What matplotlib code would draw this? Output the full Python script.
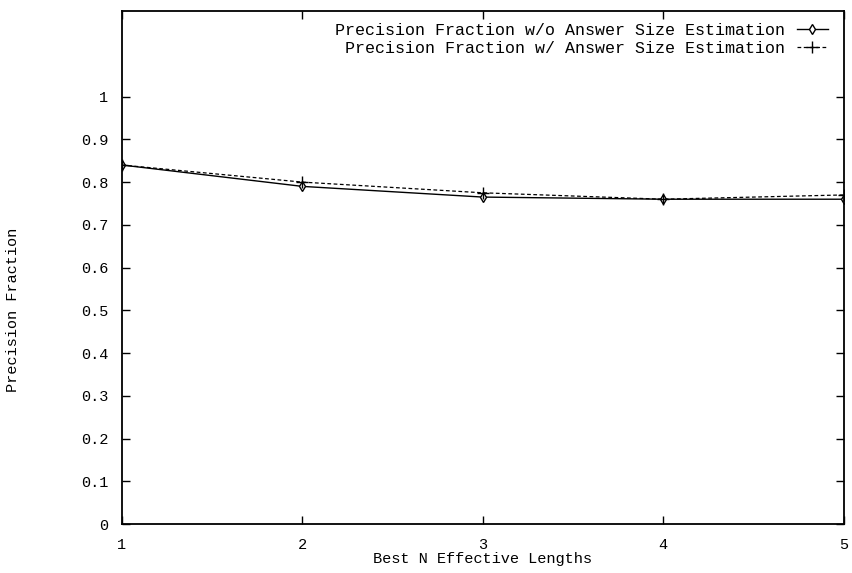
import numpy as np
from matplotlib import pyplot as plt

plt.rcParams['font.family'] = ['Liberation Mono', 'DejaVu Sans Mono']

# best N effective lengths
n_best = [1, 2, 3, 4, 5]
prec_without = [0.84, 0.79, 0.765, 0.76, 0.76]
prec_with = [0.84, 0.80, 0.775, 0.76, 0.77]

fig = plt.figure(figsize=(8.53, 5.73), dpi=100)
ax = fig.add_axes([0.143, 0.0855, 0.846, 0.895])

ax.plot(n_best, prec_without, color='black', lw=1.0, marker='d', ms=5,
        mfc='white', mec='black', mew=1.0,
        label='Precision Fraction w/o Answer Size Estimation')
ax.plot(n_best, prec_with, color='black', lw=0.9, ls=(0, (3, 2)), marker='+',
        ms=9, mew=1.0,
        label='Precision Fraction w/ Answer Size Estimation')

ax.set_xlim(1, 5)
ax.set_ylim(0, 1.2)
ax.set_xticks(n_best)
ax.set_yticks(np.arange(0, 1.01, 0.1))
ax.set_yticklabels(['0', '0.1', '0.2', '0.3', '0.4', '0.5', '0.6', '0.7', '0.8', '0.9', '1'])
ax.tick_params(direction='in', top=True, right=True, length=6, width=1.0,
               labelsize=11)
ax.tick_params(axis='y', pad=10)
ax.tick_params(axis='x', pad=10)
for s in ax.spines.values():
    s.set_linewidth(1.3)

ax.set_xlabel('Best N Effective Lengths', fontsize=11, labelpad=0)
ax.set_ylabel('Precision Fraction', fontsize=11)
ax.yaxis.set_label_coords(-0.141, 0.417)

ax.legend(loc='upper right', bbox_to_anchor=(0.978, 0.977), frameon=False,
          markerfirst=False, fontsize=12, handlelength=1.86, handletextpad=0.7,
          labelspacing=0.2, borderaxespad=0, borderpad=0)
for t in ax.get_legend().get_texts():
    t.set_ha('right')

fig.savefig('out.png', dpi=100)
